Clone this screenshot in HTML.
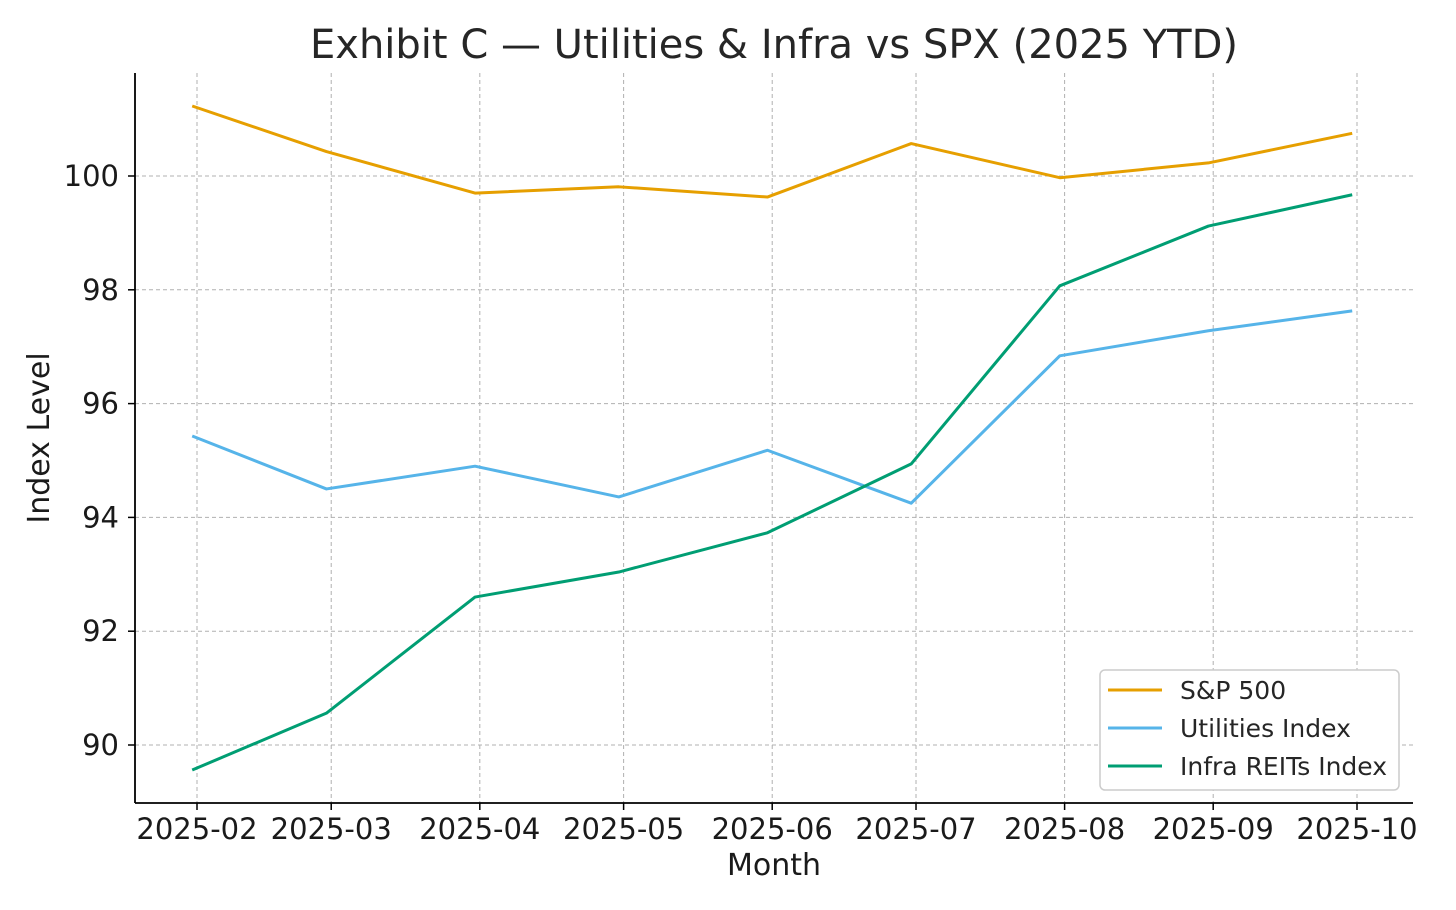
<!DOCTYPE html>
<html><head><meta charset="utf-8"><style>
body{margin:0;background:#fff;}
svg{display:block;font-family:"DejaVu Sans","Liberation Sans",sans-serif;}
</style></head><body>
<svg id="chart" width="1456" height="910" viewBox="0 0 1456 910">
<text x="774" y="58" text-anchor="middle" font-size="40" fill="#262626">Exhibit C — Utilities &amp; Infra vs SPX (2025 YTD)</text>
<g id="grid"></g><g id="lines"></g><g id="axes"></g>
<text x="774" y="875" text-anchor="middle" font-size="30" fill="#1a1a1a">Month</text>
<text transform="translate(49,438) rotate(-90)" text-anchor="middle" font-size="30" fill="#1a1a1a">Index Level</text>
<g>
<rect x="1100" y="670" width="299" height="120" rx="5" fill="#fff" stroke="#ccc" stroke-width="1.5"/>
<g id="legend-items"></g>
</g>
</svg>
<script>
const xTickLabels=["2025-02","2025-03","2025-04","2025-05","2025-06","2025-07","2025-08","2025-09","2025-10"];
const xTickDays=[0,28,59,89,120,150,181,212,242];
const pointDays=[-1,27,58,88,119,149,180,211,241];
const yTicks=[90,92,94,96,98,100];
const seriesNames=["S&P 500","Utilities Index","Infra REITs Index"];
const spx=[101.23,100.43,99.70,99.81,99.63,100.57,99.97,100.23,100.75];
const utilities=[95.43,94.50,94.90,94.36,95.18,94.25,96.84,97.28,97.63];
const infra=[89.56,90.56,92.60,93.04,93.73,94.94,98.07,99.12,99.67];
const colors=["#E69F00","#56B4E9","#009E73"];
const NS="http://www.w3.org/2000/svg";
const L=135,R=1413,T=73,B=803;
const xs=d=>197+d*(1160/242);
const ys=v=>176+(100-v)*56.9;
function mk(tag,attrs,parent){const e=document.createElementNS(NS,tag);for(const k in attrs)e.setAttribute(k,attrs[k]);parent.appendChild(e);return e;}
const grid=document.getElementById('grid'),axes=document.getElementById('axes'),lines=document.getElementById('lines');
xTickDays.forEach((d,i)=>{const x=xs(d);
 const g=mk('line',{x1:x,x2:x,y1:T,y2:B,stroke:'#b0b0b0','stroke-width':1,'stroke-dasharray':'4,3'},grid);
 
 
 mk('line',{x1:x,x2:x,y1:B,y2:B+7,stroke:'#000','stroke-width':1.5},axes);
 const t=mk('text',{x:x,y:B+36,'text-anchor':'middle','font-size':29,fill:'#1a1a1a'},axes);t.textContent=xTickLabels[i];
 
 });
yTicks.forEach(v=>{const y=ys(v);
 const g=mk('line',{x1:L,x2:R,y1:y,y2:y,stroke:'#b0b0b0','stroke-width':1,'stroke-dasharray':'4,3'},grid);
 
 
 mk('line',{x1:L-7,x2:L,y1:y,y2:y,stroke:'#000','stroke-width':1.5},axes);
 const t=mk('text',{x:L-16,y:y+10,'text-anchor':'end','font-size':29,fill:'#1a1a1a'},axes);t.textContent=v;
 
 });
mk('line',{x1:L,x2:L,y1:T,y2:B,stroke:'#000','stroke-width':1.8},axes);
mk('line',{x1:L,x2:R,y1:B,y2:B,stroke:'#000','stroke-width':1.8},axes);
[spx,utilities,infra].forEach((s,i)=>{
 const p=mk('polyline',{points:s.map((v,j)=>xs(pointDays[j])+','+ys(v)).join(' '),fill:'none',stroke:colors[i],'stroke-width':3,'stroke-linejoin':'round'},lines);
 
 
});
const li=document.getElementById('legend-items');
seriesNames.forEach((n,i)=>{const y=690+i*38;
 const g=mk('g',{},li);
 
 
 mk('line',{x1:1108,x2:1162,y1:y,y2:y,stroke:colors[i],'stroke-width':3},g);
 const t=mk('text',{x:1180,y:y+9,'font-size':25,fill:'#262626'},g);t.textContent=n;});
</script>
</body></html>
